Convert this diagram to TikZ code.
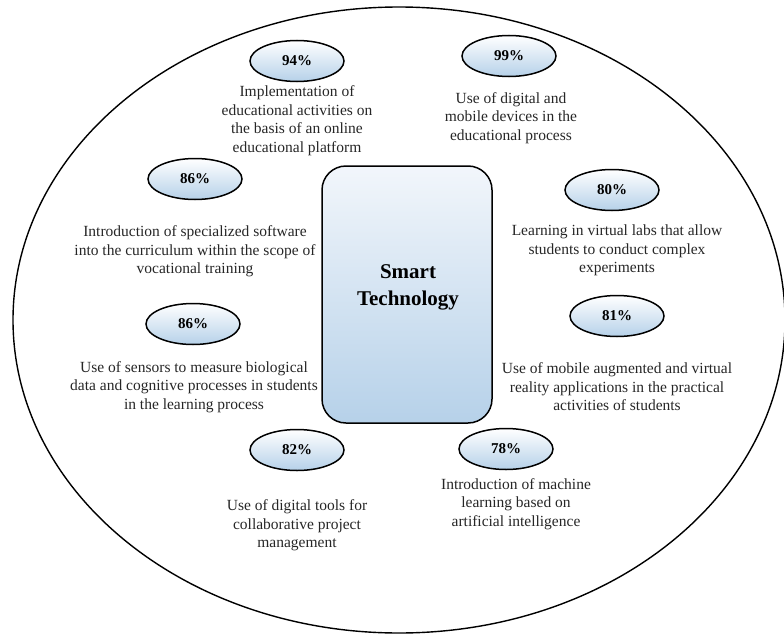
\documentclass[tikz,border=0pt]{standalone}
\usepackage{fontspec}
\setmainfont{Liberation Serif}
\usetikzlibrary{shapes.geometric}
\definecolor{lb}{HTML}{B6D1E9}
\definecolor{lbtop}{HTML}{F2F6FB}
\tikzset{
  pct/.style={ellipse, draw=black, line width=1.5pt, minimum width=94pt, minimum height=41pt,
    inner sep=0pt, top color=white, bottom color=lb, font=\fontsize{15}{17}\selectfont\bfseries},
  desc/.style={align=center, font=\fontsize{15.5}{18.5}\selectfont, inner sep=0pt, text=black!85},
}
\begin{document}
\begin{tikzpicture}[x=1pt,y=-1pt]
\useasboundingbox (0,0) rectangle (784,634);
\node[ellipse, draw=black, line width=1.4pt, minimum width=772pt, minimum height=626pt, inner sep=0pt] (outer) at (399,320) {};
\node[draw=black, line width=1.5pt, rounded corners=24pt, minimum width=170pt, minimum height=257pt,
  top color=lbtop, bottom color=lb, inner sep=0pt] (center) at (407,294.5) {};
\node[align=center, inner sep=0pt, font=\fontsize{21}{27}\selectfont\bfseries] (title) at (408,287) {Smart\\Technology};

\node[pct] (p94) at (297,61) {94\%};
\node[desc] (t94) at (297,120.5) {Implementation of\\educational activities on\\the basis of an online\\educational platform};

\node[pct] (p99) at (509,56) {99\%};
\node[desc] (t99) at (511,118) {Use of digital and\\mobile devices in the\\educational process};

\node[pct] (p86a) at (195,179) {86\%};
\node[desc] (t86a) at (195,251.5) {Introduction of specialized software\\into the curriculum within the scope of\\vocational training};

\node[pct] (p80) at (612,190) {80\%};
\node[desc] (t80) at (617,250.5) {Learning in virtual labs that allow\\students to conduct complex\\experiments};

\node[pct] (p86b) at (193,324) {86\%};
\node[desc] (t86b) at (194,387) {Use of sensors to measure biological\\data and cognitive processes in students\\in the learning process};

\node[pct] (p81) at (617,316) {81\%};
\node[desc] (t81) at (617,387) {Use of mobile augmented and virtual\\reality applications in the practical\\activities of students};

\node[pct] (p82) at (297,450) {82\%};
\node[desc] (t82) at (297,525.5) {Use of digital tools for\\collaborative project\\management};

\node[pct] (p78) at (506,449) {78\%};
\node[desc] (t78) at (516,504) {Introduction of machine\\learning based on\\artificial intelligence};
\end{tikzpicture}
\end{document}
